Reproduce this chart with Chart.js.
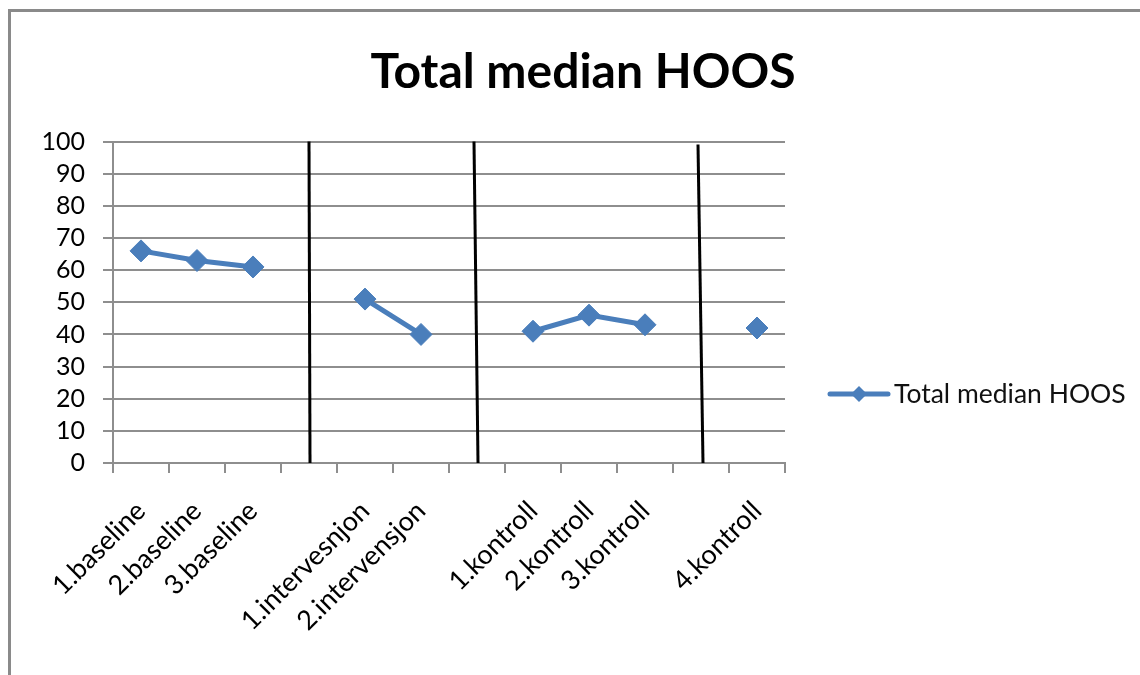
<!DOCTYPE html>
<html>
<head>
<meta charset="utf-8">
<script src="https://cdn.jsdelivr.net/npm/chart.js@4.4.0/dist/chart.umd.min.js"></script>
<style>
  html, body { margin: 0; padding: 0; background: #fff; overflow: hidden; }
  #wrap { position: relative; width: 1140px; height: 675px; }
  #frame { position: absolute; left: 8px; top: 9px; width: 1200px; height: 700px;
           border-left: 3px solid #8a8a8a; border-top: 3px solid #8a8a8a; }
  canvas { position: absolute; left: 0; top: 0; }
</style>
</head>
<body>
<div id="wrap">
  <div id="frame"></div>
  <canvas id="lineChart" width="1140" height="675"></canvas>
</div>
<script>
// Chart data
const categories = ['1.baseline', '2.baseline', '3.baseline', '',
  '1.intervesnjon', '2.intervensjon', '',
  '1.kontroll', '2.kontroll', '3.kontroll', '', '4.kontroll'];
const medianHoos = [66, 63, 61, null, 51, 40, null, 41, 46, 43, null, 42];
const yTicks = [0, 10, 20, 30, 40, 50, 60, 70, 80, 90, 100];
// empty categories where the black divider lines sit
const separators = [3, 6, 10];
const seriesLabel = 'Total median HOOS';
const chartTitle = 'Total median HOOS';

const FONT = 'Lato, "Open Sans", sans-serif';
const BLUE = '#4a7ebb';
const GRID = '#8e8e8e';

// hand drawn looking divider lines (top / bottom x offsets)
const separatorPlugin = {
  id: 'separators',
  beforeDatasetsDraw(chart) {
    const { ctx, chartArea, scales } = chart;
    const tilt = [[0, 1], [-3, 1], [-3, 2]];
    ctx.save();
    ctx.strokeStyle = '#000';
    ctx.lineWidth = 3;
    separators.forEach((idx, i) => {
      const x = scales.x.getPixelForValue(idx);
      ctx.beginPath();
      ctx.moveTo(x + tilt[i][0], chartArea.top + (i === 2 ? 3 : 0));
      ctx.lineTo(x + tilt[i][1], chartArea.bottom);
      ctx.stroke();
    });
    ctx.restore();
  }
};

// legend on the right: line sample with a diamond, then the label
const legendPlugin = {
  id: 'sideLegend',
  afterDraw(chart) {
    const { ctx, chartArea } = chart;
    const ds = chart.data.datasets[0];
    const x0 = chartArea.right + 45;
    const y = chartArea.bottom - 69;
    ctx.save();
    ctx.strokeStyle = ds.borderColor;
    ctx.lineWidth = 5;
    ctx.lineCap = 'round';
    ctx.beginPath();
    ctx.moveTo(x0, y);
    ctx.lineTo(x0 + 58, y);
    ctx.stroke();
    ctx.fillStyle = ds.borderColor;
    ctx.beginPath();
    ctx.moveTo(x0 + 29 - 8, y);
    ctx.lineTo(x0 + 29, y - 8);
    ctx.lineTo(x0 + 29 + 8, y);
    ctx.lineTo(x0 + 29, y + 8);
    ctx.closePath();
    ctx.fill();
    ctx.fillStyle = '#111';
    ctx.font = '26.5px ' + FONT;
    ctx.textBaseline = 'middle';
    ctx.fillText(ds.label, x0 + 64, y);
    ctx.restore();
  }
};

const ctx = document.getElementById('lineChart').getContext('2d');
const myChart = new Chart(ctx, {
  type: 'line',
  data: {
    labels: categories,
    datasets: [{
      label: seriesLabel,
      data: medianHoos,
      borderColor: BLUE,
      backgroundColor: BLUE,
      borderWidth: 5,
      pointStyle: 'rectRot',
      pointRadius: 11,
      pointBorderWidth: 1,
      pointBackgroundColor: BLUE,
      pointBorderColor: BLUE,
      spanGaps: false,
      tension: 0
    }]
  },
  options: {
    responsive: false,
    animation: false,
    layout: { padding: { left: 26, right: 0, top: 0, bottom: 0 } },
    plugins: {
      legend: { display: false },
      tooltip: { enabled: false },
      title: {
        display: true,
        text: chartTitle,
        color: '#000',
        font: { family: FONT, size: 48, weight: 'bold' },
        padding: { top: 44, bottom: 40 }
      }
    },
    scales: {
      x: {
        offset: true,
        grid: { offset: true, drawOnChartArea: false, drawTicks: true, tickLength: 10, color: GRID, lineWidth: 2 },
        border: { color: GRID, width: 2 },
        ticks: {
          autoSkip: false, minRotation: 45, maxRotation: 45,
          color: '#000', font: { family: FONT, size: 27 }, padding: 22
        },
        afterFit(scale) { scale.height = 212; }
      },
      y: {
        min: 0,
        max: 100,
        afterBuildTicks(scale) { scale.ticks = yTicks.map(v => ({ value: v })); },
        grid: { color: GRID, lineWidth: 2, tickLength: 10 },
        border: { color: GRID, width: 2 },
        ticks: { autoSkip: false, color: '#000', font: { family: FONT, size: 25 }, padding: 18 },
        afterFit(scale) { scale.width = 87; }
      },
      // empty right-hand axis that reserves room for the legend
      legendSpace: {
        type: 'linear',
        position: 'right',
        grid: { display: false },
        border: { display: false },
        ticks: { display: false },
        afterFit(scale) { scale.width = 355; }
      }
    }
  },
  plugins: [separatorPlugin, legendPlugin]
});
</script>
</body>
</html>
